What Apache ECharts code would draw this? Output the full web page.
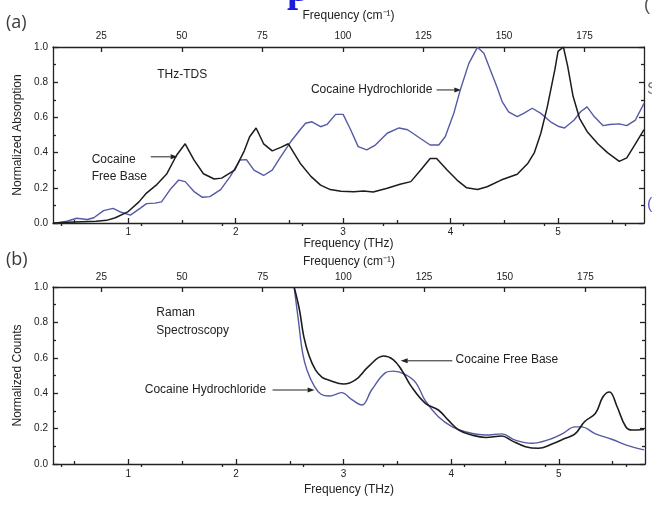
<!DOCTYPE html>
<html>
<head>
<meta charset="utf-8">
<script src="https://cdn.jsdelivr.net/npm/echarts@6/dist/echarts.min.js"></script>
<style>
html, body { margin: 0; padding: 0; background: #fff; }
#chart { width: 652px; height: 505px; }
</style>
</head>
<body>
<div id="chart"></div>
<script>
// ---- axis ranges and tick values ----
const THZ_MIN = 0.3;
const THZ_MAX = 5.8;
const THZ_TO_WAVENUMBER = 33.356;          // 1 THz in cm^-1
const thzTicks = [1, 2, 3, 4, 5];
const thzMinorTicks = [0.5, 1.5, 2.5, 3.5, 4.5, 5.5];
const wavenumberTicks = [25, 50, 75, 100, 125, 150, 175];
const wavenumberMinorTicks = [12.5, 37.5, 62.5, 87.5, 112.5, 137.5, 162.5, 187.5];

// ---- (a) THz-TDS absorption spectra ----
const tdsFreeBaseFreq = [0.30, 0.50, 0.70, 0.80, 0.88, 1.00, 1.10, 1.17, 1.26, 1.36, 1.45, 1.53, 1.61, 1.70, 1.80, 1.87, 1.99, 2.08, 2.13, 2.19, 2.26, 2.34, 2.42, 2.49, 2.60, 2.70, 2.79, 2.88, 2.98, 3.10, 3.19, 3.28, 3.41, 3.53, 3.63, 3.72, 3.81, 3.87, 3.97, 4.06, 4.15, 4.25, 4.34, 4.47, 4.62, 4.72, 4.78, 4.84, 4.90, 4.97, 5.00, 5.05, 5.09, 5.14, 5.20, 5.27, 5.37, 5.46, 5.57, 5.64, 5.72, 5.80];
const tdsFreeBaseAbs  = [0.00, 0.005, 0.01, 0.015, 0.03, 0.065, 0.12, 0.17, 0.215, 0.28, 0.385, 0.45, 0.36, 0.28, 0.25, 0.255, 0.30, 0.41, 0.49, 0.54, 0.45, 0.41, 0.43, 0.45, 0.34, 0.265, 0.215, 0.19, 0.18, 0.178, 0.182, 0.176, 0.197, 0.22, 0.235, 0.30, 0.367, 0.367, 0.30, 0.244, 0.20, 0.19, 0.206, 0.244, 0.277, 0.34, 0.40, 0.51, 0.66, 0.87, 0.975, 1.00, 0.89, 0.72, 0.595, 0.52, 0.45, 0.40, 0.35, 0.37, 0.45, 0.53];

const tdsHclFreq = [0.33, 0.43, 0.52, 0.62, 0.68, 0.77, 0.86, 0.92, 1.02, 1.11, 1.17, 1.25, 1.31, 1.39, 1.47, 1.53, 1.61, 1.69, 1.76, 1.86, 1.95, 2.04, 2.10, 2.17, 2.26, 2.34, 2.42, 2.51, 2.60, 2.65, 2.71, 2.79, 2.85, 2.93, 3.00, 3.07, 3.14, 3.22, 3.30, 3.41, 3.52, 3.60, 3.72, 3.81, 3.89, 3.95, 4.03, 4.09, 4.17, 4.25, 4.31, 4.37, 4.43, 4.48, 4.54, 4.62, 4.68, 4.76, 4.84, 4.93, 5.00, 5.06, 5.15, 5.21, 5.27, 5.33, 5.42, 5.48, 5.57, 5.64, 5.72, 5.80];
const tdsHclAbs  = [0.00, 0.01, 0.027, 0.02, 0.03, 0.07, 0.083, 0.064, 0.045, 0.083, 0.11, 0.113, 0.12, 0.19, 0.244, 0.235, 0.18, 0.146, 0.15, 0.19, 0.265, 0.358, 0.36, 0.30, 0.27, 0.30, 0.377, 0.46, 0.53, 0.567, 0.575, 0.547, 0.56, 0.617, 0.617, 0.53, 0.434, 0.415, 0.443, 0.51, 0.54, 0.53, 0.48, 0.443, 0.443, 0.49, 0.623, 0.756, 0.907, 0.998, 0.964, 0.87, 0.775, 0.69, 0.632, 0.604, 0.623, 0.652, 0.623, 0.575, 0.55, 0.54, 0.585, 0.632, 0.66, 0.61, 0.553, 0.56, 0.563, 0.553, 0.585, 0.68];

// ---- (b) Raman spectra ----
const ramanFreeBaseFreq   = [2.54, 2.59, 2.63, 2.68, 2.74, 2.80, 2.86, 3.00, 3.11, 3.23, 3.37, 3.46, 3.54, 3.63, 3.76, 3.88, 3.97, 4.07, 4.19, 4.32, 4.47, 4.56, 4.69, 4.81, 4.93, 5.06, 5.15, 5.24, 5.34, 5.41, 5.47, 5.54, 5.62, 5.68, 5.79];
const ramanFreeBaseCounts = [1.00, 0.87, 0.72, 0.61, 0.53, 0.49, 0.475, 0.452, 0.475, 0.55, 0.61, 0.59, 0.53, 0.437, 0.343, 0.305, 0.249, 0.192, 0.164, 0.15, 0.158, 0.132, 0.098, 0.089, 0.111, 0.145, 0.17, 0.24, 0.287, 0.38, 0.407, 0.325, 0.212, 0.192, 0.195];

const ramanHclFreq   = [2.54, 2.58, 2.62, 2.66, 2.73, 2.79, 2.87, 2.98, 3.08, 3.17, 3.26, 3.39, 3.46, 3.57, 3.67, 3.76, 3.88, 4.01, 4.13, 4.32, 4.47, 4.59, 4.75, 4.90, 5.03, 5.15, 5.21, 5.34, 5.49, 5.65, 5.79];
const ramanHclCounts = [1.00, 0.81, 0.625, 0.53, 0.437, 0.394, 0.384, 0.403, 0.362, 0.333, 0.418, 0.516, 0.525, 0.507, 0.46, 0.356, 0.267, 0.21, 0.182, 0.164, 0.17, 0.136, 0.117, 0.136, 0.17, 0.21, 0.21, 0.17, 0.14, 0.102, 0.08];

const zip = (xs, ys) => xs.map((x, i) => [x, ys[i]]);

const INK = '#222';
const FREE_BASE_COLOR = '#1c1c1c';
const HCL_COLOR = '#565aa3';
const FONT = "'Liberation Sans', Arial, sans-serif";

const grids = [
  { left: 53, right: 8, top: 47, height: 176 },
  { left: 53, right: 7, top: 287, height: 177 }
];

// per-panel spacing of the axis titles / labels
const panelLayout = [
  { bottomLabelMargin: 4, bottomNameGap: 15, topLabelMargin: 6, topNameGap: 25, yName: 'Normalized Absorption' },
  { bottomLabelMargin: 5, bottomNameGap: 20, topLabelMargin: 5, topNameGap: 19, yName: 'Normalized Counts' }
];

const lineStyleAxis = { color: INK, width: 1.3 };
const labelStyle = { color: INK, fontSize: 10, fontFamily: FONT };
const nameStyle = { color: INK, fontSize: 12, fontFamily: FONT };

const xAxes = [];
const yAxes = [];
panelLayout.forEach((p, g) => {
  // bottom THz axis (major)
  xAxes.push({
    gridIndex: g, type: 'value', position: 'bottom', min: THZ_MIN, max: THZ_MAX,
    axisLine: { show: true, onZero: false, lineStyle: lineStyleAxis },
    axisTick: { show: true, inside: true, length: 5, customValues: thzTicks, lineStyle: lineStyleAxis },
    axisLabel: { show: true, customValues: thzTicks, margin: p.bottomLabelMargin, ...labelStyle },
    splitLine: { show: false },
    name: 'Frequency (THz)', nameLocation: 'middle', nameGap: p.bottomNameGap, nameTextStyle: nameStyle
  });
  // bottom THz axis (minor ticks)
  xAxes.push({
    gridIndex: g, type: 'value', position: 'bottom', min: THZ_MIN, max: THZ_MAX,
    axisLine: { show: false },
    axisTick: { show: true, inside: true, length: 3, customValues: thzMinorTicks, lineStyle: lineStyleAxis },
    axisLabel: { show: false }, splitLine: { show: false }
  });
  // top wavenumber axis (major)
  xAxes.push({
    gridIndex: g, type: 'value', position: 'top',
    min: THZ_MIN * THZ_TO_WAVENUMBER, max: THZ_MAX * THZ_TO_WAVENUMBER,
    axisLine: { show: true, onZero: false, lineStyle: lineStyleAxis },
    axisTick: { show: true, inside: true, length: 5, customValues: wavenumberTicks, lineStyle: lineStyleAxis },
    axisLabel: { show: true, customValues: wavenumberTicks, margin: p.topLabelMargin, ...labelStyle },
    splitLine: { show: false },
    name: 'Frequency (cm\u207B\u00B9)', nameLocation: 'middle', nameGap: p.topNameGap, nameTextStyle: nameStyle
  });
  // top wavenumber axis (minor ticks)
  xAxes.push({
    gridIndex: g, type: 'value', position: 'top',
    min: THZ_MIN * THZ_TO_WAVENUMBER, max: THZ_MAX * THZ_TO_WAVENUMBER,
    axisLine: { show: false },
    axisTick: { show: true, inside: true, length: 3, customValues: wavenumberMinorTicks, lineStyle: lineStyleAxis },
    axisLabel: { show: false }, splitLine: { show: false }
  });
  // left value axis
  yAxes.push({
    gridIndex: g, type: 'value', position: 'left', min: 0, max: 1, interval: 0.2,
    axisLine: { show: true, onZero: false, lineStyle: lineStyleAxis },
    axisTick: { show: true, inside: true, length: 5, lineStyle: lineStyleAxis },
    minorTick: { show: true, splitNumber: 2, length: 3, lineStyle: lineStyleAxis },
    axisLabel: { show: true, margin: 5, formatter: v => v.toFixed(1), ...labelStyle },
    splitLine: { show: false },
    name: p.yName, nameLocation: 'middle', nameGap: 29, nameRotate: 90, nameTextStyle: nameStyle
  });
  // right mirror axis
  yAxes.push({
    gridIndex: g, type: 'value', position: 'right', min: 0, max: 1, interval: 0.2,
    axisLine: { show: true, onZero: false, lineStyle: lineStyleAxis },
    axisTick: { show: true, inside: true, length: 5, lineStyle: lineStyleAxis },
    minorTick: { show: true, splitNumber: 2, length: 3, lineStyle: lineStyleAxis },
    axisLabel: { show: false }, splitLine: { show: false }
  });
});

function curve(name, xs, ys, g, color, smooth, width) {
  return {
    name, type: 'line', xAxisIndex: 4 * g, yAxisIndex: 2 * g,
    data: zip(xs, ys), showSymbol: false, smooth, clip: true,
    lineStyle: { color, width }, silent: true, animation: false
  };
}

const chart = echarts.init(document.getElementById('chart'), null, { renderer: 'canvas' });
chart.setOption({
  backgroundColor: '#fff',
  animation: false,
  grid: grids.map(g => ({ ...g, containLabel: false, outerBoundsMode: 'none' })),
  xAxis: xAxes,
  yAxis: yAxes,
  series: [
    curve('Cocaine Hydrochloride (THz-TDS)', tdsHclFreq, tdsHclAbs, 0, HCL_COLOR, false, 1.4),
    curve('Cocaine Free Base (THz-TDS)', tdsFreeBaseFreq, tdsFreeBaseAbs, 0, FREE_BASE_COLOR, false, 1.5),
    curve('Cocaine Hydrochloride (Raman)', ramanHclFreq, ramanHclCounts, 1, HCL_COLOR, 0.4, 1.4),
    curve('Cocaine Free Base (Raman)', ramanFreeBaseFreq, ramanFreeBaseCounts, 1, FREE_BASE_COLOR, 0.4, 1.6)
  ]
});

// ---- annotations placed in data coordinates ----
const px = (g, x, y) => chart.convertToPixel({ gridIndex: g }, [x, y]);

function label(g, x, y, text, align) {
  const [X, Y] = px(g, x, y);
  return { type: 'text', x: X, y: Y, silent: true,
    style: { text, fill: INK, font: `12px ${FONT}`, align: align || 'left', verticalAlign: 'middle' } };
}

function arrow(g, x0, x1, y) {
  const [X0, Y] = px(g, x0, y);
  const [X1] = px(g, x1, y);
  const dir = Math.sign(X1 - X0);
  const head = 7;
  return [
    { type: 'line', silent: true, shape: { x1: X0, y1: Y, x2: X1 - dir * head, y2: Y },
      style: { stroke: INK, lineWidth: 1 } },
    { type: 'polygon', silent: true,
      shape: { points: [[X1, Y], [X1 - dir * head, Y - 2.5], [X1 - dir * head, Y + 2.5]] },
      style: { fill: INK } }
  ];
}

const graphics = [
  // panel captions
  { type: 'text', x: 6, y: 23, silent: true,
    style: { text: '(a)', fill: '#3a3a3a', font: "18px 'Open Sans', 'Noto Sans', sans-serif", verticalAlign: 'middle' } },
  { type: 'text', x: 6, y: 260, silent: true,
    style: { text: '(b)', fill: '#3a3a3a', font: "18px 'Open Sans', 'Noto Sans', sans-serif", verticalAlign: 'middle' } },
  // neighbouring page text cut off at the edges
  { type: 'text', x: 287, y: 11, silent: true,
    style: { text: 'p', fill: '#1a1ae0', font: "bold 40px 'Liberation Serif', serif", verticalAlign: 'bottom' } },
  { type: 'text', x: 644, y: -4, silent: true,
    style: { text: '(', fill: '#555', font: "18px 'Liberation Sans', sans-serif", verticalAlign: 'top' } },
  { type: 'text', x: 647, y: 82, silent: true,
    style: { text: 'S', fill: '#777', font: "16px 'Liberation Sans', sans-serif", verticalAlign: 'top' } },
  { type: 'text', x: 647, y: 197, silent: true,
    style: { text: '(', fill: '#5a5ad0', font: "16px 'Liberation Sans', sans-serif", verticalAlign: 'top' } },

  // (a) THz-TDS
  label(0, 1.27, 0.84, 'THz-TDS'),
  label(0, 3.83, 0.756, 'Cocaine Hydrochloride', 'right'),
  ...arrow(0, 3.87, 4.10, 0.756),
  label(0, 0.66, 0.36, 'Cocaine'),
  label(0, 0.66, 0.265, 'Free Base'),
  ...arrow(0, 1.21, 1.46, 0.376),

  // (b) Raman
  label(1, 1.26, 0.853, 'Raman'),
  label(1, 1.26, 0.751, 'Spectroscopy'),
  label(1, 2.28, 0.418, 'Cocaine Hydrochloride', 'right'),
  ...arrow(1, 2.34, 2.73, 0.418),
  label(1, 4.04, 0.588, 'Cocaine Free Base'),
  ...arrow(1, 4.01, 3.53, 0.583)
];

chart.setOption({ graphic: graphics });
</script>
</body>
</html>
